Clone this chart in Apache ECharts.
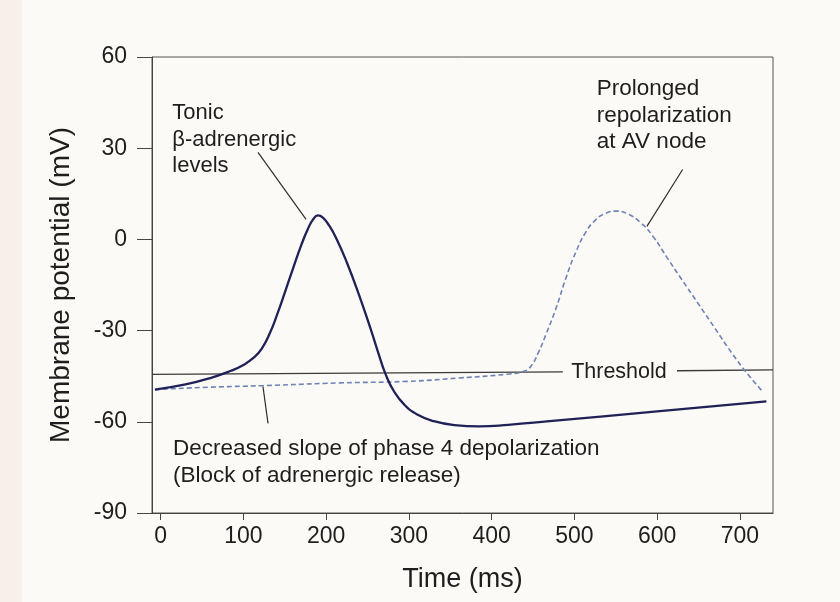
<!DOCTYPE html>
<html>
<head>
<meta charset="utf-8">
<script src="https://cdn.jsdelivr.net/npm/echarts@6/dist/echarts.min.js"></script>
<style>
  html, body { margin: 0; padding: 0; background: #fbfaf6; }
  #main { width: 840px; height: 602px; }
</style>
</head>
<body>
<div id="main"></div>
<script>
// time ticks / labels
var timeTicks = [0, 100, 200, 300, 400, 500, 600, 700];

// solid curve: tonic beta-adrenergic levels
var solidTime = [-7, 30, 60, 85, 100, 112, 122, 132, 141, 150, 160, 170, 178, 184, 190, 196, 203, 212, 225, 240, 255, 262, 272, 282, 295, 310, 330, 355, 385, 420, 470, 600, 732];
var solidMv   = [-49.4, -47.7, -45.6, -43.2, -41.3, -39, -36, -30.8, -24.5, -17.5, -9.5, -1.8, 3.5, 6.5, 7.9, 7.2, 4.8, 0.5, -7.6, -18.5, -30.5, -36.5, -44.5, -50, -54.5, -57.6, -59.8, -61.1, -61.5, -61, -59.8, -56.6, -53.3];

// dashed curve: decreased phase 4 slope + prolonged repolarization
var dashTime = [-7, 60, 124, 217, 298, 360, 420, 440, 448, 456, 466, 478, 490, 502, 514, 526, 538, 551, 565, 580, 595, 612, 630, 650, 670, 690, 710, 728];
var dashMv   = [-49.4, -48.6, -48.1, -47.2, -46.7, -45.6, -44.3, -43.3, -41.5, -37.5, -31, -22.5, -12.5, -4, 2.5, 6.5, 8.6, 9.3, 8.3, 5.5, 1, -6, -13.3, -21.3, -29.3, -37.3, -44.5, -50.2];

// threshold line, broken around its label
var threshLeftTime = [-10.5, 486];
var threshLeftMv = [-44.4, -43.6];
var threshRightTime = [624, 740];
var threshRightMv = [-43.2, -42.9];

// annotation leaders [t0, v0, t1, v1]
var leaderTonic = [117.6, 28.6, 175.7, 6.6];
var leaderAv = [630.8, 23.0, 587.6, 4.3];
var leaderSlope = [123.6, -48.4, 129.7, -60.5];

// annotation texts anchored in data units
var notes = [
  { t: 14, v: 45.8, size: 22, text: 'Tonic\nβ-adrenergic\nlevels', align: 'left', va: 'top' },
  { t: 527, v: 53.8, size: 22.5, text: 'Prolonged\nrepolarization\nat AV node', align: 'left', va: 'top' },
  { t: 15, v: -64.6, size: 22.5, text: 'Decreased slope of phase 4 depolarization\n(Block of adrenergic release)', align: 'left', va: 'top' },
  { t: 553.8, v: -43.5, size: 21.5, text: 'Threshold', align: 'center', va: 'middle' }
];

function pairs(xs, ys) {
  return xs.map(function (x, i) { return [x, ys[i]]; });
}
function seg(a) {
  return [[a[0], a[1]], [a[2], a[3]]];
}

var txt = '#1e1e1e';
var font = 'Liberation Sans';
var bg = '#fbfaf6';

function leaderSeries(a) {
  return {
    type: 'line', data: seg(a), showSymbol: false, silent: true,
    lineStyle: { color: '#2e2e2e', width: 1.2 }, z: 3
  };
}

var option = {
  animation: false,
  backgroundColor: bg,
  textStyle: { fontFamily: font },
  graphic: [
    { type: 'rect', left: 0, top: 0, shape: { width: 22, height: 602 }, style: { fill: '#f7efe9' }, z: -10 }
  ],
  grid: {
    left: 152, right: 67, top: 57, bottom: 89,
    show: true, borderColor: '#555', borderWidth: 1, backgroundColor: 'transparent'
  },
  xAxis: {
    type: 'value', min: -10.5, max: 740,
    name: 'Time (ms)', nameLocation: 'middle', nameGap: 53,
    nameTextStyle: { fontSize: 27, color: txt, fontFamily: font },
    axisLine: { show: true, onZero: false, lineStyle: { color: '#444', width: 1 } },
    axisTick: { show: true, customValues: timeTicks, length: 7, lineStyle: { color: '#444' } },
    axisLabel: { customValues: timeTicks, fontSize: 23, margin: 12, color: txt, fontFamily: font },
    splitLine: { show: false }
  },
  yAxis: {
    type: 'value', min: -90, max: 60, interval: 30,
    name: 'Membrane potential (mV)', nameLocation: 'middle', nameGap: 77,
    nameTextStyle: { fontSize: 28, color: txt, fontFamily: font },
    axisLine: { show: true, onZero: false, lineStyle: { color: '#444', width: 1 } },
    axisTick: { show: true, length: 15, lineStyle: { color: '#444' } },
    axisLabel: { fontSize: 23, margin: 25, color: txt, fontFamily: font },
    splitLine: { show: false }
  },
  series: [
    {
      type: 'line', data: pairs(threshLeftTime, threshLeftMv), showSymbol: false,
      lineStyle: { color: '#3a3a3a', width: 1.3 }, z: 2
    },
    {
      type: 'line', data: pairs(threshRightTime, threshRightMv), showSymbol: false,
      lineStyle: { color: '#3a3a3a', width: 1.3 }, z: 2
    },
    {
      name: 'dashed', type: 'line', data: pairs(dashTime, dashMv), showSymbol: false, smooth: 0.5,
      lineStyle: { color: '#6f82b5', width: 1.6, type: [5, 3] }, z: 4
    },
    {
      name: 'solid', type: 'line', data: pairs(solidTime, solidMv), showSymbol: false, smooth: 0.5,
      lineStyle: { color: '#1f2157', width: 2.3 }, z: 5
    },
    leaderSeries(leaderTonic),
    leaderSeries(leaderAv),
    leaderSeries(leaderSlope),
    {
      type: 'scatter', symbolSize: 0, silent: true, z: 6,
      data: notes.map(function (n) {
        return {
          value: [n.t, n.v],
          label: {
            show: true, position: [0, 0], formatter: n.text,
            align: n.align, verticalAlign: n.va,
            fontSize: n.size, lineHeight: 26.5, color: txt, fontFamily: font,
            textBorderWidth: 0, opacity: 1,
            backgroundColor: n.align === 'center' ? bg : 'transparent',
            padding: n.align === 'center' ? [0, 4] : 0
          }
        };
      })
    }
  ]
};

var chart = echarts.init(document.getElementById('main'), null, { renderer: 'canvas' });
chart.setOption(option);
</script>
</body>
</html>
